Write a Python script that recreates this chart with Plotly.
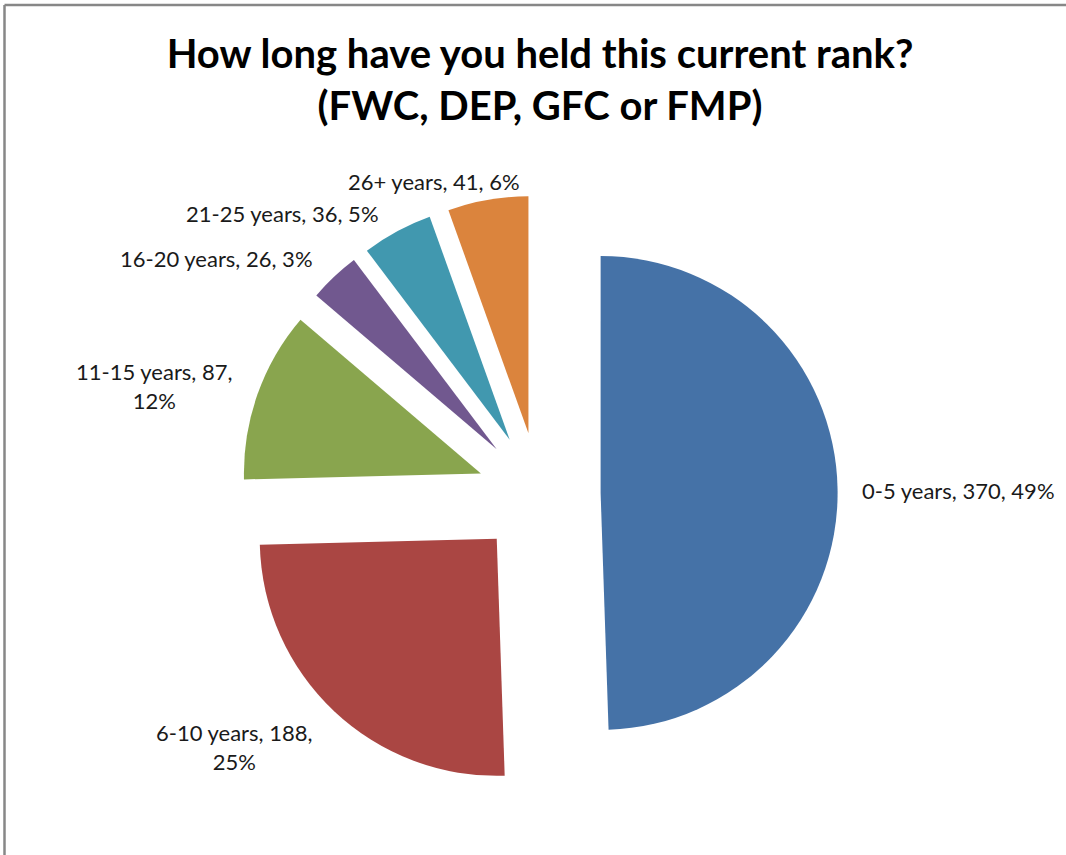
import plotly.graph_objects as go

# Survey responses: time held in current rank
categories = ["0-5 years", "6-10 years", "11-15 years", "16-20 years", "21-25 years", "26+ years"]
counts = [370, 188, 87, 26, 36, 41]
percent_labels = ["49%", "25%", "12%", "3%", "5%", "6%"]

slice_colors = ["#4572A7", "#AA4643", "#89A54E", "#71588F", "#4198AF", "#DB843D"]

W, H = 1066, 855

# Label anchor points (pixels from top-left) and line breaks for each data label
label_pos = [(959, 490), (234, 747), (154, 386), (216, 258), (282, 213), (434, 181)]
label_wrap = [False, True, True, False, False, False]

# Pie placement: centre (px), slice radius (px), all slices exploded by the same fraction
cx, cy, r, pull = 539.0, 494.0, 237.0, 0.26
half = r * (1 + pull)
dom_x = [(cx - half) / W, (cx + half) / W]
dom_y = [1 - (cy + half) / H, 1 - (cy - half) / H]

fig = go.Figure(
    go.Pie(
        labels=categories,
        values=counts,
        sort=False,
        direction="clockwise",
        rotation=0,
        pull=[pull] * len(counts),
        marker=dict(colors=slice_colors, line=dict(width=0)),
        textinfo="none",
        showlegend=False,
        domain=dict(x=dom_x, y=dom_y),
    )
)

annotations = []
for cat, n, pct, (px, py), wrap in zip(categories, counts, percent_labels, label_pos, label_wrap):
    text = f"{cat}, {n},<br>{pct}" if wrap else f"{cat}, {n}, {pct}"
    annotations.append(
        dict(
            text=text,
            x=px / W,
            y=1 - py / H,
            xref="paper",
            yref="paper",
            xanchor="center",
            yanchor="middle",
            showarrow=False,
            align="center",
            font=dict(family="Lato", size=22, color="#1a1a1a"),
        )
    )

# Chart-area frame (top and left edges)
frame = dict(color="#878787", width=2.5)
shapes = [
    dict(type="line", xref="paper", yref="paper",
         x0=4.5 / W, x1=1.0, y0=1 - 5 / H, y1=1 - 5 / H, line=frame),
    dict(type="line", xref="paper", yref="paper",
         x0=4.5 / W, x1=4.5 / W, y0=0.0, y1=1 - 5 / H, line=frame),
]

fig.update_layout(
    width=W,
    height=H,
    margin=dict(l=0, r=0, t=0, b=0),
    paper_bgcolor="white",
    plot_bgcolor="white",
    title=dict(
        text="How long have you held this current rank?<br>(FWC, DEP, GFC or FMP)",
        x=540 / W,
        xanchor="center",
        y=1 - 68 / H,
        yanchor="middle",
        yref="container",
        font=dict(family="Lato", size=40, color="black", weight="bold"),
    ),
    annotations=annotations,
    shapes=shapes,
)

fig.write_html("out.html")
